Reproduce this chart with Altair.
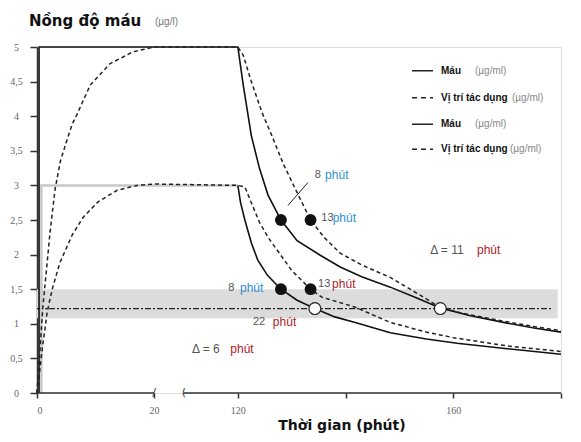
import altair as alt
import pandas as pd

# ---------------- data ----------------
# High dose: blood (solid) and effect site (dashed)
t_mau1 = [0.35, 0.35, 120, 121, 122.5, 124, 125.6, 128, 131, 135.3, 139, 143, 148.3, 153, 157.6, 163, 170, 175, 180]
c_mau1 = [0, 5, 5, 4.45, 3.72, 3.25, 2.86, 2.5, 2.2, 1.99, 1.82, 1.68, 1.53, 1.38, 1.23, 1.12, 1.01, 0.94, 0.88]

t_vt1 = [0, 0.5, 1.0, 1.7, 2.2, 3.1, 4.0, 5.1, 6.0, 6.8, 9.1, 12.5, 16.4, 20, 120, 121, 122.5, 124.5,
         126.3, 128.5, 130.6, 133.5, 136, 139, 143, 148.3, 152, 155, 157.6, 163, 170, 175, 180]
c_vt1 = [0, 0.62, 1.24, 1.85, 2.3, 2.95, 3.35, 3.65, 3.88, 4.02, 4.45, 4.76, 4.93, 5.0, 5.0, 4.88, 4.5, 4.05,
         3.72, 3.3, 2.96, 2.5, 2.25, 2.02, 1.85, 1.67, 1.5, 1.36, 1.23, 1.13, 1.03, 0.96, 0.9]

# Low dose: blood plateau (grey), blood decay (solid), effect site (dashed)
t_mau2_on = [0.75, 0.75, 120]
c_mau2_on = [0, 3, 3]
t_mau2 = [120, 120.5, 121.3, 122.5, 123.7, 125.5, 128, 131, 134.3, 138, 141.8, 148.3, 155, 160.7, 170, 180]
c_mau2 = [3, 2.75, 2.5, 2.17, 1.92, 1.7, 1.5, 1.34, 1.22, 1.1, 1.02, 0.87, 0.78, 0.72, 0.64, 0.56]

t_vt2 = [0, 0.5, 1.0, 1.4, 1.7, 2.2, 2.7, 3.9, 6.0, 7.9, 10.4, 13.7, 17.1, 20, 120, 121.3, 122.5, 124,
         125.6, 130, 133.5, 135.6, 141.8, 148.3, 155, 160, 170, 180]
c_vt2 = [0, 0.35, 0.7, 0.95, 1.15, 1.35, 1.53, 1.88, 2.28, 2.54, 2.76, 2.93, 3.0, 3.02, 3.0, 2.98, 2.75, 2.47,
         2.25, 1.77, 1.5, 1.385, 1.24, 1.02, 0.88, 0.8, 0.68, 0.6]

# Marked points
dot_t = [128, 133.5, 128, 133.5]
dot_c = [2.5, 2.5, 1.5, 1.5]
open_t = [134.3, 157.6]
open_c = [1.22, 1.22]

# Therapeutic band and reference line
band_t = [0, 179.4]
band_c = [1.08, 1.5]
ref_c = 1.22
ref_t = [0, 178.5]

# Annotations (minutes)
ann_num = ["8", "13", "8", "13", "22"]
ann_num_t = [134.3, 135.5, 118.2, 134.9, 122.8]
ann_num_c = [3.15, 2.53, 1.52, 1.57, 1.02]
ann_unit_t = [136.2, 137.6, 120.4, 137.5, 126.5]
ann_unit_col = ["#2f8fd0", "#2f8fd0", "#2f8fd0", "#b0202a", "#b0202a"]
# Annotations (delta)
delta_txt = ["Δ = 6", "Δ = 11"]
delta_t = [111.5, 155.7]
delta_c = [0.635, 2.06]
delta_unit_t = [118.6, 164.4]
delta_unit_col = ["#b0202a", "#b0202a"]

leader_t = [133.0, 129.3]
leader_c = [3.04, 2.71]

# Axis
x_ticks = [0, 20, 120, 140, 160, 180]
y_ticks = [0, 0.5, 1, 1.5, 2, 2.5, 3, 3.5, 4, 4.5, 5]
axis_seg_start = [0, 110]
axis_seg_end = [20, 180]

legend_labels = ["Máu", "Vị trí tác dụng", "Máu", "Vị trí tác dụng"]
legend_unit = "(µg/ml)"

# ---------------- chart ----------------
W, H = 524, 346
xscale = alt.Scale(domain=[0, 20, 110, 180], range=[0, 117, 147, 524], nice=False, zero=False)
yscale = alt.Scale(domain=[0, 5], nice=False, zero=False)

x_axis = alt.Axis(values=x_ticks, labelExpr="datum.value == 140 || datum.value == 180 ? '' : datum.label",
                  domain=False, grid=False, tickSize=5, tickColor="#333", tickWidth=1.5,
                  labelFont="Liberation Serif", labelFontSize=10, labelColor="#666", labelPadding=7, title=None)
y_axis = alt.Axis(values=y_ticks, format=".1~f", labelExpr="replace(datum.label, '.', ',')",
                  grid=False, tickSize=7, tickColor="#333", tickWidth=1.5, domainColor="#333", domainWidth=1.5,
                  labelAlign="center", labelBaseline="middle", labelPadding=14,
                  labelFont="Liberation Serif", labelFontSize=10, labelColor="#666", title=None)


def X(f="t"):
    return alt.X(f"{f}:Q", scale=xscale, axis=x_axis)


def Y(f="c"):
    return alt.Y(f"{f}:Q", scale=yscale, axis=y_axis)


def line(ts, cs, color="#111", dash=None, width=1.5):
    df = pd.DataFrame({"t": ts, "c": cs, "i": range(len(ts))})
    kw = dict(color=color, strokeWidth=width)
    if dash:
        kw["strokeDash"] = dash
    return alt.Chart(df).mark_line(**kw).encode(x=X(), y=Y(), order="i:Q")


band = alt.Chart(pd.DataFrame({"t": [band_t[0]], "t2": [band_t[1]], "c": [band_c[0]], "c2": [band_c[1]]})).mark_rect(
    color="#dcdcdc").encode(x=X(), x2="t2:Q", y=Y(), y2="c2:Q")

ref = alt.Chart(pd.DataFrame({"t": [ref_t[0]], "t2": [ref_t[1]], "c": [ref_c]})).mark_rule(
    color="#222", strokeWidth=1.2, strokeDash=[6, 2, 2, 2]).encode(x=X(), x2="t2:Q", y=Y())

l_mau2_on = line(t_mau2_on, c_mau2_on, color="#c8c8c8", width=2.5)
l_mau1 = line(t_mau1, c_mau1, color="#111", width=1.6)
l_vt1 = line(t_vt1, c_vt1, color="#222", dash=[4, 3])
l_mau2 = line(t_mau2, c_mau2, color="#111", width=1.6)
l_vt2 = line(t_vt2, c_vt2, color="#222", dash=[4, 3])

dots = alt.Chart(pd.DataFrame({"t": dot_t, "c": dot_c})).mark_circle(size=140, color="#111", opacity=1).encode(
    x=X(), y=Y())
opens = alt.Chart(pd.DataFrame({"t": open_t, "c": open_c})).mark_point(
    size=140, filled=True, fill="white", stroke="#222", strokeWidth=1.2, opacity=1).encode(x=X(), y=Y())

leader = alt.Chart(pd.DataFrame({"t": [leader_t[0]], "t2": [leader_t[1]], "c": [leader_c[0]], "c2": [leader_c[1]]})).mark_rule(
    color="#222", strokeWidth=1).encode(x=X(), x2="t2:Q", y=Y(), y2="c2:Q")

ann_df = pd.DataFrame({"t": ann_num_t, "c": ann_num_c, "txt": ann_num})
ann_nums = alt.Chart(ann_df).mark_text(align="left", baseline="middle", font="Liberation Sans",
                                       fontSize=11, color="#555").encode(x=X(), y=Y(), text="txt:N")
unit_df = pd.DataFrame({"t": ann_unit_t + delta_unit_t, "c": ann_num_c + delta_c,
                        "col": ann_unit_col + delta_unit_col,
                        "txt": ["phút"] * (len(ann_unit_t) + len(delta_unit_t))})
ann_units = alt.Chart(unit_df).mark_text(align="left", baseline="middle", font="Liberation Sans",
                                         fontSize=12).encode(x=X(), y=Y(), text="txt:N",
                                                             color=alt.Color("col:N", scale=None))
delta_df = pd.DataFrame({"t": delta_t, "c": delta_c, "txt": delta_txt})
deltas = alt.Chart(delta_df).mark_text(align="left", baseline="middle", font="Liberation Sans",
                                       fontSize=12, color="#555").encode(x=X(), y=Y(), text="txt:N")

seg_df = pd.DataFrame({"t": axis_seg_start, "t2": axis_seg_end, "c": [0, 0]})
xaxis_line = alt.Chart(seg_df).mark_rule(color="#333", strokeWidth=1.5).encode(x=X(), x2="t2:Q", y=Y())
brk_df = pd.DataFrame({"t": [20, 110], "c": [0, 0], "txt": ["/", "("]})
breaks = alt.Chart(brk_df).mark_text(fontSize=11, font="DejaVu Sans", color="#333", baseline="middle").encode(
    x=X(), y=Y(), text="txt:N")

dummy = pd.DataFrame({"a": [0]})


def txt(text, x, y, size, weight="normal", color="#000", font="Liberation Sans", align="left"):
    return alt.Chart(dummy).mark_text(text=text, fontSize=size, fontWeight=weight, color=color, font=font,
                                      align=align, baseline="middle").encode(x=alt.value(x), y=alt.value(y))


title_y = txt("Nồng độ máu", -8, -26, 15, "bold", "#111", "DejaVu Sans")
title_y_unit = txt("(µg/l)", 118, -25, 10, "normal", "#777")
title_x = txt("Thời gian (phút)", 305, 379, 14, "bold", "#111", "DejaVu Sans", "center")

legend_rows = [23.7, 50.7, 77.3, 102.3]
legend_unit_x = [438, 475, 438, 473]
legend_layers = []
for i, lab in enumerate(legend_labels):
    yy = legend_rows[i]
    dash = [5, 4] if i % 2 == 1 else [1, 0]
    legend_layers.append(
        alt.Chart(dummy).mark_rule(color="#222", strokeWidth=1.5, strokeDash=dash).encode(
            x=alt.value(375), x2=alt.value(396), y=alt.value(yy)))
    legend_layers.append(txt(lab, 404, yy, 10, "bold", "#111"))
    legend_layers.append(txt(legend_unit, legend_unit_x[i], yy, 10, "normal", "#888"))

chart = alt.layer(
    band, ref, l_mau2_on, l_mau1, l_vt1, l_mau2, l_vt2, leader, dots, opens,
    ann_nums, deltas, ann_units, xaxis_line, breaks, title_y, title_y_unit, title_x, *legend_layers
).properties(
    width=W, height=H,
    autosize=alt.AutoSizeParams(type="none"),
    padding={"left": 29, "top": 39, "right": 12, "bottom": 41},
).configure_view(stroke=None).configure(background="white")

chart.save("out.html", embed_options={"renderer": "svg", "actions": False})
